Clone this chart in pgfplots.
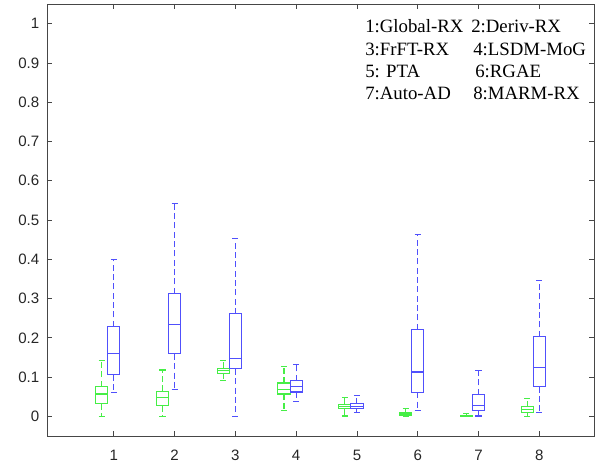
\documentclass[border=0pt]{standalone}
\usepackage{pgfplots}
\pgfplotsset{compat=1.18}
\usepgfplotslibrary{statistics}
\usepackage{fontspec}
\setmainfont{Liberation Sans}
\newfontfamily\timesfont{Liberation Serif}
\definecolor{mgreen}{RGB}{70,238,70}
\definecolor{mblue}{RGB}{80,80,252}
\definecolor{axgray}{RGB}{70,70,70}
\pgfplotsset{
  mbox/.style={draw=#1, line width=0.8pt,
    boxplot/every box/.style={draw=#1, line width=0.8pt},
    boxplot/every median/.style={draw=#1, line width=0.8pt},
    boxplot/draw/lower whisker/.code={%
      \draw[draw=#1, line width=0.8pt, dash pattern=on 4.5pt off 2.5pt]
        (boxplot cs:\pgfplotsboxplotvalue{lower quartile}) --
        (boxplot cs:\pgfplotsboxplotvalue{lower whisker});
      \draw[draw=#1, line width=0.8pt]
        (boxplot whisker cs:\pgfplotsboxplotvalue{lower whisker},0) --
        (boxplot whisker cs:\pgfplotsboxplotvalue{lower whisker},1);
    },
    boxplot/draw/upper whisker/.code={%
      \draw[draw=#1, line width=0.8pt, dash pattern=on 4.5pt off 2.5pt]
        (boxplot cs:\pgfplotsboxplotvalue{upper quartile}) --
        (boxplot cs:\pgfplotsboxplotvalue{upper whisker});
      \draw[draw=#1, line width=0.8pt]
        (boxplot whisker cs:\pgfplotsboxplotvalue{upper whisker},0) --
        (boxplot whisker cs:\pgfplotsboxplotvalue{upper whisker},1);
    }},
  gbox/.style={mbox=mgreen},
  bbox/.style={mbox=mblue},
}
\begin{document}
\begin{tikzpicture}
\begin{axis}[
  at={(0,0)}, anchor=south west,
  scale only axis, width=410.25pt, height=324pt,
  xmin=-0.1, xmax=8.9, ymin=-0.05, ymax=1.05,
  xtick={1,2,3,4,5,6,7,8},
  ytick={0,0.1,0.2,0.3,0.4,0.5,0.6,0.7,0.8,0.9,1},
  yticklabels={0,0.1,0.2,0.3,0.4,0.5,0.6,0.7,0.8,0.9,1},
  tick align=inside, major tick length=3.75pt,
  axis line style={axgray, line width=0.6pt},
  tick style={axgray, line width=0.6pt},
  tick label style={font=\fontsize{11.3}{13}\selectfont, text=black!85},
  yticklabel style={xshift=-2.3pt},
  xticklabel style={yshift=-7pt},
  /pgf/number format/assume math mode=true,
  boxplot/draw direction=y,
  boxplot/box extend=0.2,
  boxplot/whisker extend=0.1,
]
% group 1
\addplot[gbox, boxplot prepared={draw position=0.8, lower whisker=0, lower quartile=0.032, median=0.057, upper quartile=0.076, upper whisker=0.143}] coordinates {};
\addplot[bbox, boxplot prepared={draw position=1, lower whisker=0.060, lower quartile=0.106, median=0.159, upper quartile=0.228, upper whisker=0.400}] coordinates {};
% group 2
\addplot[gbox, boxplot prepared={draw position=1.8, lower whisker=0, lower quartile=0.027, median=0.048, upper quartile=0.064, upper whisker=0.118}] coordinates {};
\addplot[bbox, boxplot prepared={draw position=2, lower whisker=0.069, lower quartile=0.159, median=0.233, upper quartile=0.312, upper whisker=0.541}] coordinates {};
% group 3
\addplot[gbox, boxplot prepared={draw position=2.8, lower whisker=0.092, lower quartile=0.110, median=0.116, upper quartile=0.123, upper whisker=0.142}] coordinates {};
\addplot[bbox, boxplot prepared={draw position=3, lower whisker=0.0, lower quartile=0.121, median=0.147, upper quartile=0.261, upper whisker=0.453}] coordinates {};
% group 4
\addplot[gbox, boxplot prepared={draw position=3.8, lower whisker=0.015, lower quartile=0.057, median=0.068, upper quartile=0.085, upper whisker=0.127}] coordinates {};
\addplot[bbox, boxplot prepared={draw position=4, lower whisker=0.038, lower quartile=0.062, median=0.075, upper quartile=0.091, upper whisker=0.132}] coordinates {};
% group 5
\addplot[gbox, boxplot prepared={draw position=4.8, lower whisker=0.001, lower quartile=0.019, median=0.025, upper quartile=0.031, upper whisker=0.047}] coordinates {};
\addplot[bbox, boxplot prepared={draw position=5, lower whisker=0.011, lower quartile=0.020, median=0.026, upper quartile=0.032, upper whisker=0.053}] coordinates {};
% group 6
\addplot[gbox, boxplot prepared={draw position=5.8, lower whisker=0.001, lower quartile=0.002, median=0.006, upper quartile=0.009, upper whisker=0.021}] coordinates {};
\addplot[bbox, boxplot prepared={draw position=6, lower whisker=0.015, lower quartile=0.061, median=0.113, upper quartile=0.221, upper whisker=0.462}] coordinates {};
% group 7
\addplot[gbox, boxplot prepared={draw position=6.8, lower whisker=0, lower quartile=0.001, median=0.002, upper quartile=0.003, upper whisker=0.007}] coordinates {};
\addplot[bbox, boxplot prepared={draw position=7, lower whisker=0.001, lower quartile=0.014, median=0.028, upper quartile=0.055, upper whisker=0.116}] coordinates {};
% group 8
\addplot[gbox, boxplot prepared={draw position=7.8, lower whisker=0, lower quartile=0.010, median=0.017, upper quartile=0.024, upper whisker=0.046}] coordinates {};
\addplot[bbox, boxplot prepared={draw position=8, lower whisker=0.010, lower quartile=0.076, median=0.124, upper quartile=0.203, upper whisker=0.347}] coordinates {};

\begin{scope}[every node/.style={anchor=base west, inner sep=0pt, font=\timesfont\fontsize{14.1}{16}\selectfont}]
\node at (axis cs:5.132,0.978) {1:Global-RX};
\node at (axis cs:6.876,0.978) {2:Deriv-RX};
\node at (axis cs:5.132,0.920) {3:FrFT-RX};
\node at (axis cs:6.909,0.920) {4:LSDM-MoG};
\node at (axis cs:5.132,0.864) {5: PTA};
\node at (axis cs:6.942,0.864) {6:RGAE};
\node at (axis cs:5.132,0.808) {7:Auto-AD};
\node at (axis cs:6.909,0.808) {8:MARM-RX};
\end{scope}
\end{axis}
\pgfresetboundingbox
\path[use as bounding box] (-35.25pt,-20.25pt) rectangle (414pt,327pt);
\end{tikzpicture}
\end{document}
